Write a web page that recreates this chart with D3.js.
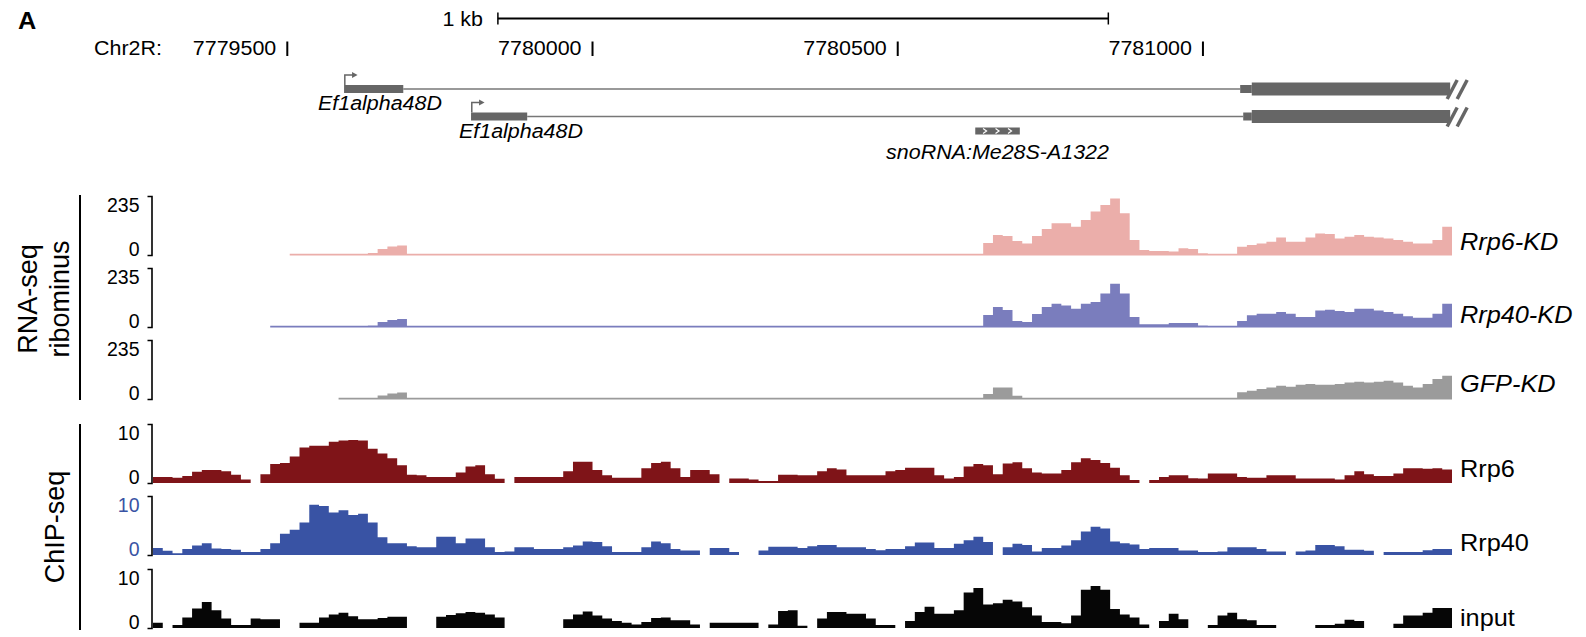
<!DOCTYPE html>
<html>
<head>
<meta charset="utf-8">
<script src="https://cdn.jsdelivr.net/npm/d3@7"></script>
<style>
  body { margin: 0; background: #fff; }
  svg { display: block; font-family: "Liberation Sans", Arial, sans-serif; }
</style>
</head>
<body>
<div id="chart"></div>
<script>
// shown region (bp) and coverage bin size
const regionStart = 7779280;
const binSize = 16;
const genomeTicks = [7779500, 7780000, 7780500, 7781000];
const scaleBar = [7779845, 7780845];

// gene models
const transcriptNames = ['Ef1alpha48D', 'Ef1alpha48D'];
const exon1 = [[7779593, 7779690], [7779801, 7779893]];
const exon2Utr = [[7781061, 7781080], [7781066, 7781080]];
const exon2Cds = [[7781080, 7781405], [7781080, 7781405]];
const snoRNA = ['snoRNA:Me28S-A1322', 7780627, 7780700];

// RNA-seq ribominus coverage (0-235), null = no data
const rnaMax = 235;
const rnaRrp6KD = [
  null, null, null, null, null, null, null, null, null, null,
  null, null, null, null, 0, 0, 0, 0, 0, 0,
  0, 0, 8, 24, 34, 38, 0, 0, 0, 0,
  0, 0, 0, 0, 0, 0, 0, 0, 0, 0,
  0, 0, 0, 0, 0, 0, 0, 0, 0, 0,
  0, 0, 0, 0, 0, 0, 0, 0, 0, 0,
  0, 0, 0, 0, 0, 0, 0, 0, 0, 0,
  0, 0, 0, 0, 0, 0, 0, 0, 0, 0,
  0, 0, 0, 0, 0, 48, 80, 76, 56, 46,
  76, 104, 126, 126, 113, 139, 173, 199, 225, 166,
  60, 20, 16, 16, 14, 27, 24, 7, 0, 0,
  0, 33, 40, 46, 53, 70, 53, 53, 70, 86,
  84, 66, 73, 80, 73, 70, 66, 60, 53, 46,
  46, 60, 113
];
const rnaRrp40KD = [
  null, null, null, null, null, null, null, null, null, null,
  null, null, 0, 0, 0, 0, 0, 0, 0, 0,
  0, 0, 6, 20, 28, 32, 0, 0, 0, 0,
  0, 0, 0, 0, 0, 0, 0, 0, 0, 0,
  0, 0, 0, 0, 0, 0, 0, 0, 0, 0,
  0, 0, 0, 0, 0, 0, 0, 0, 0, 0,
  0, 0, 0, 0, 0, 0, 0, 0, 0, 0,
  0, 0, 0, 0, 0, 0, 0, 0, 0, 0,
  0, 0, 0, 0, 0, 48, 80, 68, 24, 20,
  52, 80, 93, 86, 73, 93, 100, 133, 172, 133,
  40, 11, 11, 11, 16, 16, 16, 6, 0, 0,
  0, 24, 47, 53, 53, 60, 53, 40, 40, 66,
  69, 64, 60, 73, 73, 66, 60, 53, 43, 37,
  37, 53, 93
];
const rnaGFPKD = [
  null, null, null, null, null, null, null, null, null, null,
  null, null, null, null, null, null, null, null, null, 0,
  0, 0, 4, 14, 22, 26, 0, 0, 0, 0,
  0, 0, 0, 0, 0, 0, 0, 0, 0, 0,
  0, 0, 0, 0, 0, 0, 0, 0, 0, 0,
  0, 0, 0, 0, 0, 0, 0, 0, 0, 0,
  0, 0, 0, 0, 0, 0, 0, 0, 0, 0,
  0, 0, 0, 0, 0, 0, 0, 0, 0, 0,
  0, 0, 0, 0, 0, 20, 46, 46, 13, 0,
  0, 0, 0, 0, 0, 0, 0, 0, 0, 0,
  0, 0, 0, 0, 0, 0, 0, 0, 0, 0,
  0, 27, 33, 40, 46, 53, 49, 57, 60, 57,
  57, 60, 66, 69, 66, 69, 73, 66, 53, 46,
  60, 80, 93
];

// ChIP-seq coverage (0-10), null = gap
const chipMax = 10;
const chipRrp6 = [
  1.0, 1.0, 0.9, 1.2, 1.9, 2.2, 2.2, 2.0, 1.4, 0.6,
  null, 1.5, 3.2, 3.4, 4.5, 6.0, 6.3, 6.3, 7.0, 7.2,
  7.3, 7.2, 5.8, 5.0, 4.2, 3.0, 1.4, 1.3, 1.0, 1.0,
  1.0, 1.8, 2.8, 3.0, 1.5, 0.7, null, 1.0, 1.0, 1.0,
  1.0, 1.0, 2.0, 3.6, 3.6, 2.2, 1.3, 0.9, 0.9, 0.9,
  2.5, 3.4, 3.6, 2.5, 1.0, 2.2, 2.2, 1.5, null, 0.75,
  0.75, 0.6, 0.35, 0.35, 1.4, 1.4, 1.3, 1.3, 2.0, 2.5,
  2.3, 1.3, 1.3, 1.3, 1.3, 2.0, 2.2, 2.6, 2.6, 2.6,
  1.3, 0.75, 1.0, 2.8, 3.2, 3.0, 1.5, 3.3, 3.5, 2.5,
  1.8, 1.6, 1.6, 2.2, 3.5, 4.2, 3.9, 3.4, 2.6, 1.3,
  0.5, null, 0.5, 1.0, 1.3, 1.3, 0.8, 0.75, 1.6, 1.6,
  1.6, 1.0, 0.9, 0.9, 1.3, 1.3, 1.3, 0.75, 0.75, 0.75,
  0.75, 0.6, 1.3, 2.0, 1.5, 1.2, 1.2, 1.6, 2.5, 2.5,
  2.4, 2.5, 2.3
];
const chipRrp40 = [
  1.2, 0.7, 0.3, 1.0, 1.6, 2.0, 1.1, 1.0, 0.9, 0.5,
  0.5, 1.0, 2.0, 3.6, 4.3, 5.5, 8.5, 8.3, 7.2, 7.6,
  6.8, 7.0, 5.5, 3.0, 2.0, 2.0, 1.5, 1.3, 1.3, 3.1,
  3.1, 2.0, 2.8, 2.8, 1.3, 0.5, 0.6, 1.3, 1.3, 1.0,
  1.0, 1.0, 1.3, 1.6, 2.3, 2.2, 1.5, 0.5, 0.5, 0.5,
  1.3, 2.3, 2.0, 1.0, 0.75, 0.75, null, 1.2, 1.2, 0.5,
  null, null, 0.75, 1.4, 1.4, 1.4, 1.2, 1.5, 1.7, 1.7,
  1.3, 1.3, 1.3, 1.0, 0.8, 1.0, 1.0, 1.5, 2.1, 2.1,
  1.2, 1.2, 1.9, 2.5, 3.1, 2.2, null, 1.3, 1.9, 1.7,
  0.6, 1.2, 1.2, 1.6, 2.5, 4.0, 4.8, 4.5, 2.3, 2.0,
  1.8, 1.0, 1.2, 1.2, 1.2, 0.75, 0.75, 0.5, 0.5, 0.6,
  1.3, 1.3, 1.3, 1.0, 0.6, 0.6, null, 0.6, 0.75, 1.7,
  1.7, 1.5, 0.9, 0.9, 0.7, null, 0.5, 0.5, 0.5, 0.5,
  0.8, 1.0, 1.0
];
const chipInput = [
  0.9, null, 0.5, 1.8, 3.3, 4.4, 3.0, 1.6, 0.5, 0.5,
  1.6, 1.5, 1.5, null, null, 0.9, 0.9, 1.8, 2.3, 2.6,
  2.0, 1.5, 1.5, 1.7, 1.9, 1.9, null, null, null, 1.9,
  2.2, 2.5, 2.7, 2.6, 2.3, 1.8, null, null, null, null,
  null, null, 1.5, 2.3, 2.8, 2.1, 1.6, 1.2, 0.9, 0.6,
  1.0, 1.7, 1.8, 1.3, 1.3, 0.6, null, 0.9, 0.9, 0.9,
  0.9, 0.9, null, 0.6, 2.9, 3.0, 0.4, null, 1.6, 2.7,
  2.7, 2.4, 2.4, 1.6, 0.5, 0.5, null, 1.2, 2.7, 3.6,
  2.4, 2.4, 3.0, 6.0, 6.8, 4.0, 4.2, 4.8, 4.5, 3.5,
  2.1, 1.0, 1.0, 0.8, 2.1, 6.5, 7.1, 6.5, 3.2, 2.3,
  1.8, 0.6, null, 1.2, 2.4, 1.5, null, null, 0.5, 2.1,
  2.6, 1.5, 1.3, 0.5, 0.5, null, null, null, null, 0.5,
  0.5, 0.7, 1.4, 1.2, null, null, null, 0.7, 2.1, 2.1,
  2.6, 3.4, 3.4
];

const trackHeight = 59;
const tracks = [
  { name: 'Rrp6-KD', values: rnaRrp6KD, max: rnaMax, bottom: 255, color: '#ebaeaa', italic: true, labelY: 250, baseline: true },
  { name: 'Rrp40-KD', values: rnaRrp40KD, max: rnaMax, bottom: 327, color: '#7a7dbd', italic: true, labelY: 323, baseline: true },
  { name: 'GFP-KD', values: rnaGFPKD, max: rnaMax, bottom: 399, color: '#9b9b9b', italic: true, labelY: 392, baseline: true },
  { name: 'Rrp6', values: chipRrp6, max: chipMax, bottom: 483, color: '#7f1418', labelY: 477 },
  { name: 'Rrp40', values: chipRrp40, max: chipMax, bottom: 555, color: '#3953a4', labelY: 551, axisColor: '#3953a4' },
  { name: 'input', values: chipInput, max: chipMax, bottom: 628, color: '#060606', labelY: 626 }
];

const svg = d3.select('#chart').append('svg')
  .attr('width', 1586)
  .attr('height', 637);

const x = d3.scaleLinear()
  .domain([regionStart, regionStart + binSize * chipRrp6.length])
  .range([153, 1452]);

function addText(sel, str, px, py, opt = {}) {
  return sel.append('text')
    .attr('transform', `translate(${px},${py}) scale(${opt.sx || 1.1},1)`)
    .attr('text-anchor', opt.anchor || 'start')
    .style('font-size', (opt.size || 19.5) + 'px')
    .style('font-style', opt.italic ? 'italic' : null)
    .style('font-weight', opt.bold ? 'bold' : null)
    .attr('fill', '#000')
    .text(str);
}

// header: panel letter, scale bar, coordinates
addText(svg, 'A', 18, 29, { size: 23, bold: true, sx: 1.1 });

const bar = svg.append('g');
bar.append('line')
  .attr('x1', x(scaleBar[0])).attr('x2', x(scaleBar[1]))
  .attr('y1', 18.5).attr('y2', 18.5)
  .attr('stroke', '#000').attr('stroke-width', 2);
bar.selectAll('.end').data(scaleBar).enter().append('line')
  .attr('x1', d => x(d)).attr('x2', d => x(d))
  .attr('y1', 12.5).attr('y2', 24.5)
  .attr('stroke', '#000').attr('stroke-width', 1.5);
addText(svg, '1 kb', x(scaleBar[0]) - 15, 26, { anchor: 'end' });

addText(svg, 'Chr2R:', 94, 55);
const ticks = svg.append('g');
ticks.selectAll('line').data(genomeTicks).enter().append('line')
  .attr('x1', d => x(d)).attr('x2', d => x(d))
  .attr('y1', 41.5).attr('y2', 56)
  .attr('stroke', '#000').attr('stroke-width', 2);
genomeTicks.forEach(t => addText(ticks, String(t), x(t) - 11, 55, { anchor: 'end' }));

// gene models
const geneColor = '#666';
const rowY = [89, 116.5];
const geneLabelX = [318, 459];
const geneLabelY = [110, 138];
const genes = svg.append('g');
transcriptNames.forEach((name, i) => {
  const y = rowY[i];
  const tss = x(exon1[i][0]);
  genes.append('line')
    .attr('x1', x(exon1[i][1])).attr('x2', x(exon2Utr[i][0]))
    .attr('y1', y).attr('y2', y)
    .attr('stroke', '#777').attr('stroke-width', 1.5);
  genes.append('rect')
    .attr('x', tss).attr('y', y - 4)
    .attr('width', x(exon1[i][1]) - tss).attr('height', 8)
    .attr('fill', geneColor);
  genes.append('rect')
    .attr('x', x(exon2Utr[i][0])).attr('y', y - 4)
    .attr('width', x(exon2Utr[i][1]) - x(exon2Utr[i][0])).attr('height', 8)
    .attr('fill', geneColor);
  genes.append('rect')
    .attr('x', x(exon2Cds[i][0])).attr('y', y - 6.5)
    .attr('width', x(exon2Cds[i][1]) - x(exon2Cds[i][0])).attr('height', 13)
    .attr('fill', geneColor);
  // transcription start arrow
  genes.append('path')
    .attr('d', `M${tss + 0.75},${y - 4}V${y - 14}H${tss + 9}`)
    .attr('fill', 'none').attr('stroke', geneColor).attr('stroke-width', 1.5);
  genes.append('path')
    .attr('d', `M${tss + 8},${y - 17}L${tss + 13.5},${y - 14}L${tss + 8},${y - 11}Z`)
    .attr('fill', geneColor);
  // break marks at the truncated 3' end
  const xe = x(exon2Cds[i][1]);
  [-3, 7].forEach(dx => {
    genes.append('line')
      .attr('x1', xe + dx).attr('y1', y + 10)
      .attr('x2', xe + dx + 10).attr('y2', y - 9)
      .attr('stroke', geneColor).attr('stroke-width', 3.5);
  });
  addText(genes, name, geneLabelX[i], geneLabelY[i], { italic: true });
});

const sx0 = x(snoRNA[1]), sx1 = x(snoRNA[2]);
genes.append('rect')
  .attr('x', sx0).attr('y', 127.5)
  .attr('width', sx1 - sx0).attr('height', 7)
  .attr('fill', geneColor);
[0.22, 0.5, 0.78].forEach(f => {
  const cx = sx0 + (sx1 - sx0) * f;
  genes.append('path')
    .attr('d', `M${cx - 2},${128.5}L${cx + 1.5},${131}L${cx - 2},${133.5}`)
    .attr('fill', 'none').attr('stroke', '#fff').attr('stroke-width', 1.2);
});
addText(genes, snoRNA[0], (sx0 + sx1) / 2, 159, { italic: true, anchor: 'middle' });

// coverage tracks
function bins(values) {
  return values.flatMap((v, i) => {
    const s = regionStart + i * binSize;
    return [{ pos: s, v }, { pos: s + binSize, v }];
  });
}

function drawTrack(t) {
  const y = d3.scaleLinear().domain([0, t.max]).range([t.bottom, t.bottom - trackHeight]);
  const minH = t.baseline ? 1.2 : 0;
  const area = d3.area()
    .defined(d => d.v !== null)
    .x(d => x(d.pos))
    .y0(t.bottom + (t.baseline ? 0.6 : 0))
    .y1(d => Math.min(y(d.v), t.bottom - minH));
  svg.append('path')
    .datum(bins(t.values))
    .attr('d', area)
    .attr('fill', t.color);

  const axis = d3.axisLeft(y).tickValues([0, t.max]).tickSize(4).tickPadding(8);
  const g = svg.append('g')
    .attr('transform', 'translate(151.5,0)')
    .call(axis)
    .attr('font-family', null)
    .attr('font-size', null);
  g.select('.domain').attr('stroke-width', 1.6);
  g.selectAll('.tick line').remove();
  g.selectAll('.tick text')
    .style('font-size', '19.5px')
    .attr('fill', t.axisColor || '#000')
    .attr('dy', d => d === t.max ? '0.8em' : '0.02em');

  addText(svg, t.name, 1460, t.labelY, { size: 23, italic: t.italic });
}
tracks.forEach(drawTrack);

// group labels on the left
function groupLabel(lines, yMid, yTop, yBot) {
  svg.append('line')
    .attr('x1', 80).attr('x2', 80)
    .attr('y1', yTop).attr('y2', yBot)
    .attr('stroke', '#000').attr('stroke-width', 2);
  lines.forEach(([str, bx]) => {
    svg.append('text')
      .attr('transform', `translate(${bx},${yMid}) rotate(-90)`)
      .attr('text-anchor', 'middle')
      .style('font-size', '27px')
      .text(str);
  });
}
groupLabel([['RNA-seq', 37], ['ribominus', 69]], 299, 195, 400);
groupLabel([['ChIP-seq', 63.5]], 527, 424, 630);
</script>
</body>
</html>
